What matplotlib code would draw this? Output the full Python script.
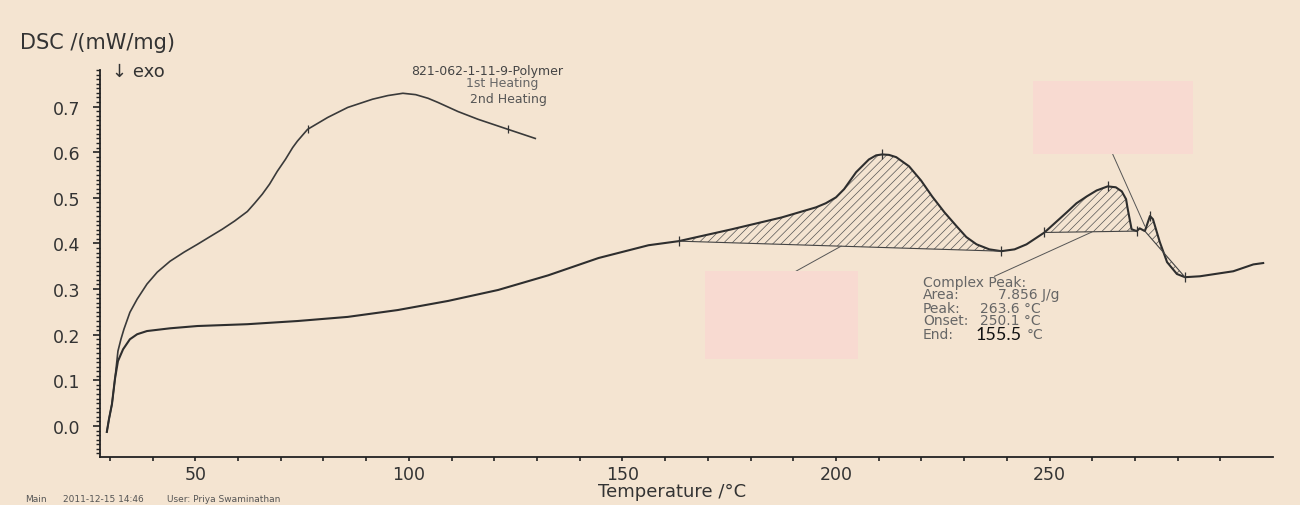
import matplotlib
matplotlib.use("Agg")
import matplotlib.pyplot as plt
import numpy as np
from matplotlib.patches import Rectangle
from matplotlib.ticker import MultipleLocator, FixedLocator

# ---- dati letti dal grafico DSC ----
# 1st heating
t1 = [29.3, 29.8, 30.5, 31.2, 31.9, 32.6, 33.3, 34.7, 36.4, 38.7, 41.1, 44.1,
      47.4, 50.5, 53.3, 56.3, 59.2, 62.2, 63.9, 65.7, 67.4, 69.2, 71.1, 72.8,
      73.9, 76.3, 81.0, 85.7, 91.5, 95.1, 98.6, 101.6, 104.5, 106.8, 111.5,
      116.2, 123.2, 129.6]
dsc1 = [-0.013, 0.015, 0.048, 0.103, 0.164, 0.190, 0.212, 0.249, 0.278, 0.311,
        0.337, 0.361, 0.381, 0.398, 0.414, 0.431, 0.449, 0.470, 0.488, 0.508,
        0.530, 0.558, 0.584, 0.610, 0.624, 0.650, 0.676, 0.698, 0.716, 0.724,
        0.729, 0.726, 0.718, 0.709, 0.689, 0.672, 0.650, 0.630]
# 2nd heating
t2 = [29.3, 29.8, 30.5, 31.2, 31.9, 33.1, 34.7, 36.4, 38.7, 44.1, 50.5, 62.2,
      74.0, 85.7, 97.4, 109.2, 120.9, 132.6, 144.4, 156.1, 163.2, 175.6, 187.3,
      195.3, 197.6, 200.0, 201.9, 204.7, 207.7, 209.4, 210.8, 212.4, 214.1,
      217.1, 219.9, 222.5, 225.4, 228.2, 230.5, 232.9, 235.9, 238.7, 241.8,
      244.6, 248.8, 251.4, 254.0, 256.3, 258.7, 261.0, 263.6, 265.5, 266.9,
      267.9, 268.3, 269.2, 270.4, 271.1, 272.3, 273.5, 274.2, 275.8, 277.5,
      279.8, 281.7, 285.2, 293.0, 297.7, 300.0]
dsc2 = [-0.013, 0.015, 0.048, 0.103, 0.142, 0.168, 0.190, 0.201, 0.208, 0.214,
        0.219, 0.223, 0.230, 0.239, 0.254, 0.274, 0.298, 0.330, 0.368, 0.396,
        0.405, 0.431, 0.457, 0.479, 0.488, 0.501, 0.519, 0.556, 0.584, 0.593,
        0.595, 0.594, 0.589, 0.569, 0.538, 0.503, 0.468, 0.438, 0.414, 0.398,
        0.387, 0.383, 0.387, 0.398, 0.424, 0.446, 0.468, 0.488, 0.503, 0.516,
        0.525, 0.523, 0.514, 0.497, 0.475, 0.431, 0.427, 0.433, 0.427, 0.460,
        0.453, 0.403, 0.359, 0.333, 0.326, 0.328, 0.339, 0.354, 0.357]
# punti caratteristici (tacche sulle curve)
mark1_t = [76.3, 123.2]
mark2_t = [163.2, 210.8, 238.7, 248.8, 263.6, 270.4, 273.5, 281.7]
# intervalli integrati (inizio, fine)
regioni = [(163.2, 238.7), (248.8, 270.4), (272.3, 281.7)]

t1 = np.array(t1); dsc1 = np.array(dsc1)
t2 = np.array(t2); dsc2 = np.array(dsc2)

bg = '#f4e4d1'
ink = '#333333'
plt.rcParams['font.family'] = ['DejaVu Sans']
plt.rcParams['hatch.linewidth'] = 0.5
plt.rcParams['hatch.color'] = '#555555'

f1 = plt.figure(figsize=(13, 5.06), dpi=100, facecolor=bg)
ax = f1.add_axes([100/1300, 1-458/506, (1273-100)/1300, (458-71)/506])
ax.set_facecolor(bg)

ax.plot(t1, dsc1, '-', c='#3a3a3a', lw=1.2)
ax.plot(t2, dsc2, '-', c='#2e2e2e', lw=1.5)

# aree tratteggiate
for a, b in regioni:
    m = (t2 >= a - 1e-6) & (t2 <= b + 1e-6)
    ya = np.interp(a, t2, dsc2); yb = np.interp(b, t2, dsc2)
    base = ya + (yb - ya) * (t2[m] - a) / (b - a)
    ax.fill_between(t2[m], dsc2[m], base, facecolor='none', edgecolor='#555555',
                    hatch='////', lw=0)
    ax.plot([a, b], [ya, yb], c='#444444', lw=0.8)

ax.plot(mark1_t, np.interp(mark1_t, t1, dsc1), '|', c='#333333', ms=6, mew=0.9)
ax.plot(mark2_t, np.interp(mark2_t, t2, dsc2), '|', c='#333333', ms=7, mew=0.9)

# linee di richiamo
ax.plot([190.6, 201.2], [0.339, 0.394], c='#555555', lw=0.7)
ax.plot([237.1, 259.9], [0.328, 0.425], c='#555555', lw=0.7)
ax.plot([264.8, 272.3], [0.595, 0.438], c='#555555', lw=0.7)

ax.set_xlim(27.7, 302.3)
ax.set_ylim(-0.068, 0.78)

for s in ('top', 'right'):
    ax.spines[s].set_visible(False)
for s in ('left', 'bottom'):
    ax.spines[s].set_color('#222222')
    ax.spines[s].set_linewidth(1.3)

ax.xaxis.set_major_locator(FixedLocator([50, 100, 150, 200, 250]))
ax.xaxis.set_minor_locator(FixedLocator(np.arange(30, 291, 10)))
ax.yaxis.set_minor_locator(MultipleLocator(0.01))
ax.set_yticks([0.0, 0.1, 0.2, 0.3, 0.4, 0.5, 0.6, 0.7])
ax.set_yticklabels(['0.0', '0.1', '0.2', '0.3', '0.4', '0.5', '0.6', '0.7'])
ax.tick_params(axis='x', which='both', direction='out', length=3, width=1.2,
               color='#222222', labelsize=12.5, labelcolor=ink, pad=3)
ax.tick_params(axis='y', which='major', direction='out', length=5, width=1.2,
               color='#222222', labelsize=12.5, labelcolor=ink, pad=9)
ax.tick_params(axis='y', which='minor', direction='out', length=3, width=1.0,
               color='#222222')

# testi
f1.text(20/1300, 1-43/506, 'DSC /(mW/mg)', fontsize=15, color=ink,
        ha='left', va='center')
f1.text(112/1300, 1-72/506, '\u2193 exo', fontsize=13, color=ink,
        ha='left', va='center')
f1.text(672/1300, 1-492/506, 'Temperature /\u00b0C', fontsize=13, color=ink,
        ha='center', va='center')

f1.text(487/1300, 1-72/506, '821-062-1-11-9-Polymer', fontsize=9, color='#444444',
        ha='center', va='center')
f1.text(502/1300, 1-84/506, '1st Heating', fontsize=9, color='#666666',
        ha='center', va='center')
f1.text(508/1300, 1-99/506, '2nd Heating', fontsize=9, color='#555555',
        ha='center', va='center')

g = '#666666'
fs = 10
f1.text(923/1300, 1-283/506, 'Complex Peak:', fontsize=fs, color=g, va='center')
f1.text(923/1300, 1-295/506, 'Area:', fontsize=fs, color=g, va='center')
f1.text(998/1300, 1-295/506, '7.856 J/g', fontsize=fs, color=g, va='center')
f1.text(923/1300, 1-309/506, 'Peak:', fontsize=fs, color=g, va='center')
f1.text(980/1300, 1-309/506, '263.6 \u00b0C', fontsize=fs, color=g, va='center')
f1.text(923/1300, 1-321/506, 'Onset:', fontsize=fs, color=g, va='center')
f1.text(980/1300, 1-321/506, '250.1 \u00b0C', fontsize=fs, color=g, va='center')
f1.text(923/1300, 1-335/506, 'End:', fontsize=fs, color=g, va='center')
f1.text(976/1300, 1-335/506, '155.5', fontsize=13, color='#111111',
        family='Lato', va='center')
f1.text(1027/1300, 1-335/506, '\u00b0C', fontsize=fs, color=g, va='center')

f = '#555555'
f1.text(25/1300, 1-500/506, 'Main', fontsize=6.5, color=f, va='center')
f1.text(63/1300, 1-500/506, '2011-12-15 14:46', fontsize=6.5, color=f, va='center')
f1.text(167/1300, 1-500/506, 'User: Priya Swaminathan', fontsize=6.5, color=f,
        va='center')

# riquadri rosa (mascherature)
for x0, y0, x1, y1 in [(705, 272, 858, 360), (1033, 82, 1193, 155)]:
    f1.patches.append(Rectangle((x0/1300, 1-y1/506), (x1-x0)/1300, (y1-y0)/506,
                                transform=f1.transFigure, facecolor='#f8dad1',
                                edgecolor='none', zorder=5))

f1.savefig('out.png', dpi=100, facecolor=bg)
